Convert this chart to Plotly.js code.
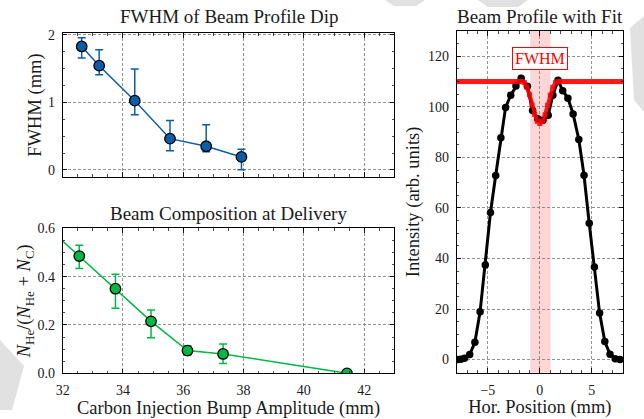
<!DOCTYPE html>
<html>
<head>
<meta charset="utf-8">
<script src="https://cdn.plot.ly/plotly-3.0.1.min.js"></script>
<style>
  html, body { margin: 0; padding: 0; background: #ffffff; }
  #chart { width: 644px; height: 419px; }
</style>
</head>
<body>
<div id="chart"></div>
<script>
// ---------------- Data ----------------
// Top-left: FWHM of beam profile dip vs carbon injection bump amplitude
const fwhmBump = [32.63, 33.21, 34.39, 35.56, 36.76, 37.93];
const fwhmValue = [1.83, 1.545, 1.027, 0.464, 0.351, 0.193];
const fwhmErrPlus = [0.13, 0.235, 0.47, 0.27, 0.32, 0.115];
const fwhmErrMinus = [0.17, 0.135, 0.21, 0.18, 0.08, 0.19];

// Bottom-left: beam composition at delivery
const compBump = [32.55, 33.75, 34.93, 36.14, 37.32, 41.43];
const compRatio = [0.485, 0.35, 0.215, 0.094, 0.08, 0.0];
const compErrPlus = [0.045, 0.06, 0.047, 0.02, 0.041, 0];
const compErrMinus = [0.051, 0.081, 0.068, 0.018, 0.039, 0];
// connecting line (starts from a point left of the visible range)
const compLineBump = [31.0, 32.55, 33.75, 34.93, 36.14, 37.32, 41.43];
const compLineRatio = [0.66, 0.485, 0.35, 0.215, 0.094, 0.08, 0.0];

// Right: measured horizontal beam profile
const profPos = [-7.9, -7.6, -7.25, -6.75, -6.25, -5.75, -5.25, -4.75, -4.25, -3.75,
                 -3.3, -2.8, -2.3, -1.8, -1.2, -0.7, -0.2, 0.3, 0.8, 1.25,
                 1.75, 2.2, 2.7, 3.2, 3.75, 4.25, 4.75, 5.25, 5.75, 6.25,
                 6.75, 7.25, 7.7];
const profInt = [0, 0.1, 0.5, 2.0, 6.8, 18.9, 37.4, 58.2, 72.8, 87.8,
                 99.7, 104.6, 108.2, 111.3, 108.1, 98.5, 95.3, 94.7, 96.7, 104.6,
                 110.5, 106.4, 103.4, 97.2, 87.1, 72.9, 53.9, 36.6, 18.4, 7.1,
                 2.1, 0.3, 0.0];

// Right: dip fit
const fitPos = [-8, -7.75, -7.5, -7.25, -7, -6.75, -6.5, -6.25, -6, -5.75, -5.5, -5.25, -5,
                -4.75, -4.5, -4.25, -4, -3.75, -3.5, -3.25, -3, -2.75, -2.5, -2.25, -2,
                -1.75, -1.5, -1.25, -1, -0.75, -0.5, -0.25, 0, 0.25, 0.5, 0.75, 1, 1.25, 1.5, 1.75,
                2, 2.25, 2.5, 2.75, 3, 3.25, 3.5, 3.75, 4, 4.25, 4.5, 4.75, 5, 5.25, 5.5,
                5.75, 6, 6.25, 6.5, 6.75, 7, 7.25, 7.5, 7.75, 8];
const fitInt = [110, 110, 110, 110, 110, 110, 110, 110, 110, 110, 110, 110, 110,
                110, 110, 110, 110, 110, 110, 110, 110, 110, 110, 110, 110,
                110, 109.6, 107.8, 104.8, 100.8, 97.0, 94.3, 93.4, 94.2, 96.8, 100.6, 104.6, 107.7, 109.5, 110,
                110, 110, 110, 110, 110, 110, 110, 110, 110, 110, 110, 110, 110, 110, 110,
                110, 110, 110, 110, 110, 110, 110, 110, 110, 110];
const fwhmBand = [-0.93, 1.03];
const fwhmLabelPos = [0.05, 119.1];

// ---------------- Styling ----------------
const FONT = 'Liberation Serif, Times New Roman, serif';
const TXT = '#1a1a1a';
const BLUE = '#0C5DA5';
const GREEN = '#00B945';
const W = 644, H = 419;
const px = v => v / W;
const py = v => 1 - v / H;

function minorTicks(d) {
  return {ticks: 'inside', ticklen: 2.5, tickwidth: 0.7, tickcolor: '#000', dtick: d, showgrid: false};
}

function axisBase(extra) {
  return Object.assign({
    showline: true, linecolor: '#000', linewidth: 1, mirror: 'allticks',
    ticks: 'inside', ticklen: 4.5, tickwidth: 0.9, tickcolor: '#000',
    showgrid: true, gridcolor: '#7a7a7a', gridwidth: 0.8, griddash: '3px,2px',
    zeroline: false, automargin: false,
    tickfont: {family: FONT, size: 14, color: TXT},
    ticklabelstandoff: 4
  }, extra);
}

const titleFont = {family: FONT, size: 18.5, color: TXT};

const traces = [
  {
    x: fwhmBump, y: fwhmValue, xaxis: 'x', yaxis: 'y', type: 'scatter', mode: 'lines+markers',
    line: {color: BLUE, width: 1.5},
    marker: {color: BLUE, size: 10.5, line: {color: '#000', width: 1.3}},
    error_y: {type: 'data', symmetric: false, array: fwhmErrPlus, arrayminus: fwhmErrMinus,
              color: BLUE, thickness: 1.5, width: 4},
    showlegend: false
  },
  {
    x: compLineBump, y: compLineRatio, xaxis: 'x2', yaxis: 'y2', type: 'scatter', mode: 'lines',
    line: {color: GREEN, width: 1.5}, showlegend: false
  },
  {
    x: compBump, y: compRatio, xaxis: 'x2', yaxis: 'y2', type: 'scatter', mode: 'markers',
    marker: {color: GREEN, size: 10.5, line: {color: '#000', width: 1.3}},
    error_y: {type: 'data', symmetric: false, array: compErrPlus, arrayminus: compErrMinus,
              color: GREEN, thickness: 1.5, width: 4},
    cliponaxis: true, showlegend: false
  },
  {
    x: profPos, y: profInt, xaxis: 'x3', yaxis: 'y3', type: 'scatter', mode: 'lines+markers',
    line: {color: '#000', width: 3},
    marker: {color: '#000', size: 7.5},
    showlegend: false
  },
  {
    x: fitPos, y: fitInt, xaxis: 'x3', yaxis: 'y3', type: 'scatter', mode: 'lines+markers',
    line: {color: '#ff0000', width: 4},
    marker: {color: '#ff0000', size: 5, symbol: 'square'},
    opacity: 0.9, showlegend: false
  }
];

const layout = {
  width: W, height: H,
  margin: {l: 0, r: 0, t: 0, b: 0},
  paper_bgcolor: '#ffffff', plot_bgcolor: 'rgba(0,0,0,0)',
  font: {family: FONT, color: TXT},
  showlegend: false,
  xaxis: axisBase({domain: [px(62.7), px(394.3)], anchor: 'y', range: [32, 43],
    tick0: 32, dtick: 2, showticklabels: false, minor: minorTicks(0.5)}),
  yaxis: axisBase({domain: [py(176.7), py(33.3)], anchor: 'x', range: [-0.1, 2.025],
    tick0: 0, dtick: 1, minor: minorTicks(0.25),
    title: {text: 'FWHM (mm)', font: titleFont, standoff: 1}}),
  xaxis2: axisBase({domain: [px(62.7), px(394.3)], anchor: 'y2', range: [32, 43],
    tick0: 32, dtick: 2, minor: minorTicks(0.5),
    title: {text: 'Carbon Injection Bump Amplitude (mm)', font: titleFont, standoff: 3}}),
  yaxis2: axisBase({domain: [py(373.3), py(228.3)], anchor: 'x2', range: [0, 0.6],
    tick0: 0, dtick: 0.2, tickformat: '.1f', minor: minorTicks(0.05),
    title: {text: '<i>N</i><sub>He</sub>/(<i>N</i><sub>He</sub> + <i>N</i><sub>C</sub>)', font: titleFont, standoff: 1}}),
  xaxis3: axisBase({domain: [px(456.7), px(623)], anchor: 'y3', range: [-8, 8],
    tick0: 0, dtick: 5, minor: minorTicks(1),
    title: {text: 'Hor. Position (mm)', font: titleFont, standoff: 3}}),
  yaxis3: axisBase({domain: [py(372.7), py(31)], anchor: 'x3', range: [-5.2, 130],
    tick0: 0, dtick: 20, minor: minorTicks(5),
    title: {text: 'Intensity (arb. units)', font: titleFont, standoff: 3}}),
  shapes: [
    {type: 'rect', xref: 'x3', yref: 'y3 domain', x0: fwhmBand[0], x1: fwhmBand[1], y0: 0, y1: 1,
     fillcolor: 'rgba(255,0,0,0.16)', line: {width: 0}, layer: 'below'},
    // faint grey overlay fragments at the picture edges
    {type: 'path', xref: 'paper', yref: 'paper', layer: 'above', fillcolor: 'rgba(205,205,205,0.6)', line: {width: 0},
     path: `M ${px(385)},${py(0)} L ${px(425)},${py(0)} L ${px(416)},${py(6)} L ${px(394)},${py(6)} Z`},
    {type: 'path', xref: 'paper', yref: 'paper', layer: 'above', fillcolor: 'rgba(205,205,205,0.6)', line: {width: 0},
     path: `M ${px(478)},${py(0)} L ${px(528)},${py(0)} L ${px(518)},${py(7)} L ${px(488)},${py(7)} Z`},
    {type: 'path', xref: 'paper', yref: 'paper', layer: 'above', fillcolor: 'rgba(205,205,205,0.6)', line: {width: 0},
     path: `M ${px(630)},${py(28)} L ${px(644)},${py(16)} L ${px(644)},${py(112)} L ${px(634)},${py(100)} Z`},
    {type: 'path', xref: 'paper', yref: 'paper', layer: 'above', fillcolor: 'rgba(205,205,205,0.6)', line: {width: 0},
     path: `M ${px(0)},${py(340)} L ${px(24)},${py(366)} L ${px(12)},${py(410)} L ${px(0)},${py(410)} Z`}
  ],
  annotations: [
    {text: 'FWHM of Beam Profile Dip', xref: 'paper', yref: 'paper', x: px(228.5), y: py(16),
     xanchor: 'center', yanchor: 'middle', showarrow: false, font: {family: FONT, size: 19, color: TXT}},
    {text: 'Beam Composition at Delivery', xref: 'paper', yref: 'paper', x: px(228.5), y: py(213),
     xanchor: 'center', yanchor: 'middle', showarrow: false, font: {family: FONT, size: 19, color: TXT}},
    {text: 'Beam Profile with Fit', xref: 'paper', yref: 'paper', x: px(540), y: py(16),
     xanchor: 'center', yanchor: 'middle', showarrow: false, font: {family: FONT, size: 19, color: TXT}},
    {text: 'FWHM', xref: 'x3', yref: 'y3', x: fwhmLabelPos[0], y: fwhmLabelPos[1],
     xanchor: 'center', yanchor: 'middle', showarrow: false,
     font: {family: FONT, size: 16, color: '#ff0000'},
     bgcolor: '#ffffff', bordercolor: '#ff0000', borderwidth: 1, borderpad: 2}
  ]
};

Plotly.newPlot('chart', traces, layout, {staticPlot: true, displayModeBar: false});
</script>
</body>
</html>
